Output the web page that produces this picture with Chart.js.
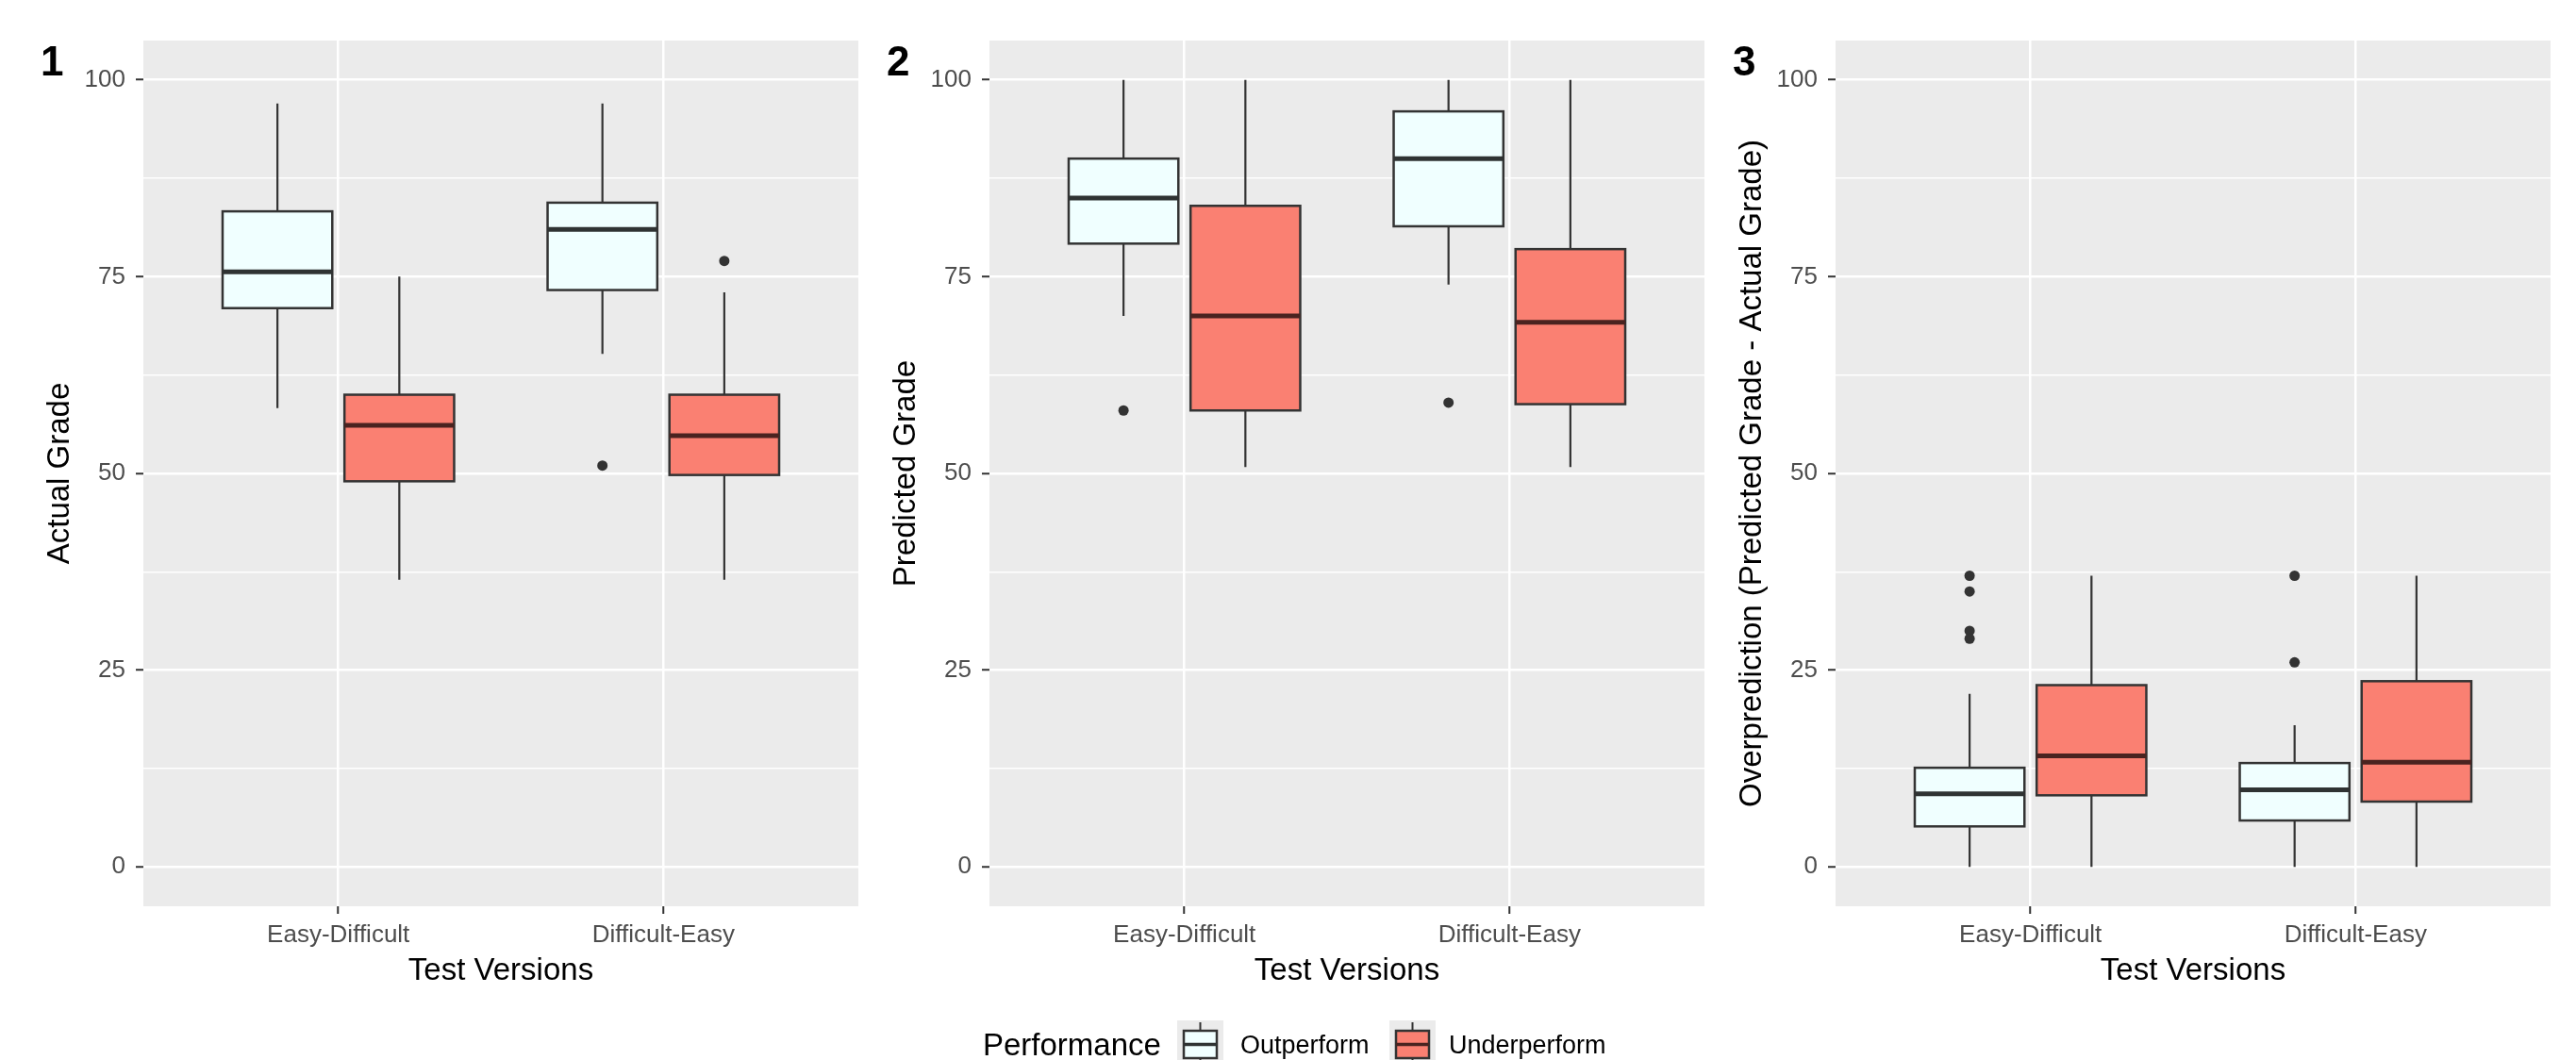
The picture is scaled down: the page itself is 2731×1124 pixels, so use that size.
<!DOCTYPE html>
<html>
<head>
<meta charset="utf-8">
<title>Grades by test version</title>
<script src="https://cdn.jsdelivr.net/npm/chart.js@4.4.0/dist/chart.umd.min.js"></script>
<style>
    html, body { margin: 0; padding: 0; background: #ffffff; }
    body {
        width: 2731px; height: 1124px; overflow: hidden; position: relative;
        font-family: 'Liberation Sans', Arial, sans-serif;
    }
    .panel { position: absolute; top: 0; }
    .legend-text { position: absolute; white-space: nowrap; color: #000000; }
    .legend-key { position: absolute; top: 1082px; }
</style>
</head>
<body>
<canvas id="panel1" class="panel" width="920" height="1124" style="left:0px"></canvas>
<canvas id="panel2" class="panel" width="920" height="1124" style="left:897px"></canvas>
<canvas id="panel3" class="panel" width="920" height="1124" style="left:1794px"></canvas>

<span class="legend-text" style="left:1042px; top:1088px; font-size:33px; line-height:40px;">Performance</span>
<canvas id="key0" class="legend-key" width="49" height="48" style="left:1248px"></canvas>
<span class="legend-text" style="left:1315px; top:1091px; font-size:27px; line-height:34px;">Outperform</span>
<canvas id="key1" class="legend-key" width="49" height="48" style="left:1473px"></canvas>
<span class="legend-text" style="left:1536px; top:1091px; font-size:27px; line-height:34px;">Underperform</span>

<script>
const categories = ['Easy-Difficult', 'Difficult-Easy'];
const groupNames = ['Outperform', 'Underperform'];
const yMajorTicks = [0, 25, 50, 75, 100];
const yMinorTicks = [12.5, 37.5, 62.5, 87.5];

// box stats per category: [lower whisker, Q1, median, Q3, upper whisker]
const actualOutperform = [[58.3, 71.0, 75.6, 83.3, 97], [65.2, 73.3, 81.0, 84.4, 97]];
const actualUnderperform = [[36.5, 49.0, 56.1, 60.0, 75], [36.5, 49.8, 54.8, 60.0, 73]];
const actualOutperformOutliers = [[], [51]];
const actualUnderperformOutliers = [[], [77]];

const predictedOutperform = [[70, 79.2, 85.0, 90.0, 100], [74, 81.4, 90.0, 96.0, 100]];
const predictedUnderperform = [[50.8, 58.0, 70.0, 84.0, 100], [50.8, 58.8, 69.2, 78.5, 100]];
const predictedOutperformOutliers = [[58], [59]];
const predictedUnderperformOutliers = [[], []];

const overOutperform = [[0, 5.15, 9.3, 12.6, 22], [0, 5.9, 9.8, 13.2, 18]];
const overUnderperform = [[0, 9.1, 14.1, 23.1, 37], [0, 8.3, 13.3, 23.6, 37]];
const overOutperformOutliers = [[37, 35, 30, 29], [37, 26]];
const overUnderperformOutliers = [[], []];

const FONT = "'Liberation Sans', Arial, sans-serif";
const groupFills = ['#F0FFFF', '#FA8072'];
const medianColors = ['#2f3333', '#4a2320'];
const dodge = [-0.1875, 0.1875];
const boxWidth = 0.3375;

Chart.defaults.font.family = FONT;

const panels = [
    { id: 'panel1', tag: '1', yTitle: 'Actual Grade',
      boxes: [actualOutperform, actualUnderperform],
      outliers: [actualOutperformOutliers, actualUnderperformOutliers] },
    { id: 'panel2', tag: '2', yTitle: 'Predicted Grade',
      boxes: [predictedOutperform, predictedUnderperform],
      outliers: [predictedOutperformOutliers, predictedUnderperformOutliers] },
    { id: 'panel3', tag: '3', yTitle: 'Overprediction (Predicted Grade - Actual Grade)',
      boxes: [overOutperform, overUnderperform],
      outliers: [overOutperformOutliers, overUnderperformOutliers] }
];

function boxPlugin(panel) {
    return {
        id: 'boxes',
        beforeDraw(chart) {
            // grey panel background
            const { ctx, chartArea: a } = chart;
            ctx.save();
            ctx.fillStyle = '#EBEBEB';
            ctx.fillRect(a.left, a.top, a.right - a.left, a.bottom - a.top);
            ctx.restore();
        },
        beforeDatasetsDraw(chart) {
            const { ctx } = chart;
            const xs = chart.scales.x;
            const ys = chart.scales.y;
            ctx.save();
            ctx.strokeStyle = '#333333';
            panel.boxes.forEach((groupStats, g) => {
                groupStats.forEach((s, c) => {
                    const cx = c + 1 + dodge[g];
                    const xl = xs.getPixelForValue(cx - boxWidth / 2);
                    const xr = xs.getPixelForValue(cx + boxWidth / 2);
                    const xm = xs.getPixelForValue(cx);
                    const [lo, q1, med, q3, hi] = s.map(v => ys.getPixelForValue(v));

                    ctx.lineWidth = 2.2;
                    ctx.beginPath();
                    ctx.moveTo(xm, lo); ctx.lineTo(xm, q1);
                    ctx.moveTo(xm, q3); ctx.lineTo(xm, hi);
                    ctx.stroke();

                    ctx.fillStyle = groupFills[g];
                    ctx.fillRect(xl, q3, xr - xl, q1 - q3);
                    ctx.lineWidth = 2.5;
                    ctx.strokeRect(xl, q3, xr - xl, q1 - q3);

                    ctx.strokeStyle = medianColors[g];
                    ctx.lineWidth = 5;
                    ctx.beginPath();
                    ctx.moveTo(xl, med); ctx.lineTo(xr, med);
                    ctx.stroke();
                    ctx.strokeStyle = '#333333';
                });
            });
            ctx.restore();
        },
        afterDraw(chart) {
            // panel tag in the top-left corner
            const { ctx } = chart;
            ctx.save();
            ctx.fillStyle = '#000000';
            ctx.font = 'bold 44px ' + FONT;
            ctx.textBaseline = 'alphabetic';
            ctx.fillText(panel.tag, 43, 80);
            ctx.restore();
        }
    };
}

panels.forEach(panel => {
    const datasets = panel.outliers.map((groupOutliers, g) => ({
        label: groupNames[g],
        data: groupOutliers.flatMap((vals, c) => vals.map(v => ({ x: c + 1 + dodge[g], y: v }))),
        backgroundColor: '#333333',
        borderWidth: 0,
        pointRadius: 5.5,
        pointHoverRadius: 5.5
    }));

    new Chart(document.getElementById(panel.id), {
        type: 'scatter',
        data: { datasets },
        plugins: [boxPlugin(panel)],
        options: {
            responsive: false,
            animation: false,
            devicePixelRatio: 1,
            layout: { padding: { top: 43, right: 10, bottom: 0, left: 0 } },
            plugins: {
                legend: { display: false },
                tooltip: { enabled: false }
            },
            scales: {
                x: {
                    type: 'linear',
                    min: 0.4,
                    max: 2.6,
                    afterBuildTicks: axis => {
                        axis.ticks = categories.map((_, i) => ({ value: i + 1 }));
                    },
                    afterFit: scale => { scale.height = 163; },
                    ticks: {
                        callback: value => categories[value - 1],
                        font: { size: 26 },
                        color: '#4D4D4D',
                        padding: 7,
                        maxRotation: 0,
                        autoSkip: false
                    },
                    grid: {
                        color: '#FFFFFF',
                        lineWidth: 2.5,
                        tickColor: '#333333',
                        tickWidth: 2,
                        tickLength: 8
                    },
                    border: { display: false },
                    title: {
                        display: true,
                        text: 'Test Versions',
                        font: { size: 33 },
                        color: '#000000',
                        padding: { top: 0, bottom: 74 }
                    }
                },
                y: {
                    min: -5,
                    max: 105,
                    afterBuildTicks: axis => {
                        axis.ticks = yMajorTicks.concat(yMinorTicks)
                            .sort((a, b) => a - b)
                            .map(v => ({ value: v }));
                    },
                    afterFit: scale => { scale.width = 152; },
                    ticks: {
                        callback: value => yMajorTicks.includes(value) ? String(value) : '',
                        font: { size: 26 },
                        color: '#4D4D4D',
                        padding: 11,
                        autoSkip: false
                    },
                    grid: {
                        color: '#FFFFFF',
                        lineWidth: ctx => yMajorTicks.includes(ctx.tick.value) ? 2.5 : 1.6,
                        tickColor: ctx => yMajorTicks.includes(ctx.tick.value) ? '#333333' : 'rgba(0,0,0,0)',
                        tickWidth: 2,
                        tickLength: 8
                    },
                    border: { display: false },
                    title: {
                        display: true,
                        text: panel.yTitle,
                        font: { size: 33 },
                        color: '#000000',
                        padding: { top: 44, bottom: 0 }
                    }
                }
            }
        }
    });
});

// legend keys: small boxplot glyphs on grey squares
groupFills.forEach((fill, g) => {
    const ctx = document.getElementById('key' + g).getContext('2d');
    ctx.fillStyle = '#EBEBEB';
    ctx.fillRect(0, 0, 49, 48);
    ctx.strokeStyle = '#333333';
    ctx.lineWidth = 2;
    ctx.beginPath();
    ctx.moveTo(24.5, 2); ctx.lineTo(24.5, 11);
    ctx.moveTo(24.5, 40); ctx.lineTo(24.5, 48);
    ctx.stroke();
    ctx.fillStyle = fill;
    ctx.fillRect(7, 11, 35, 29);
    ctx.lineWidth = 2.5;
    ctx.strokeRect(7, 11, 35, 29);
    ctx.lineWidth = 3.5;
    ctx.strokeStyle = medianColors[g];
    ctx.beginPath();
    ctx.moveTo(7, 25.5); ctx.lineTo(42, 25.5);
    ctx.stroke();
});
</script>
</body>
</html>
